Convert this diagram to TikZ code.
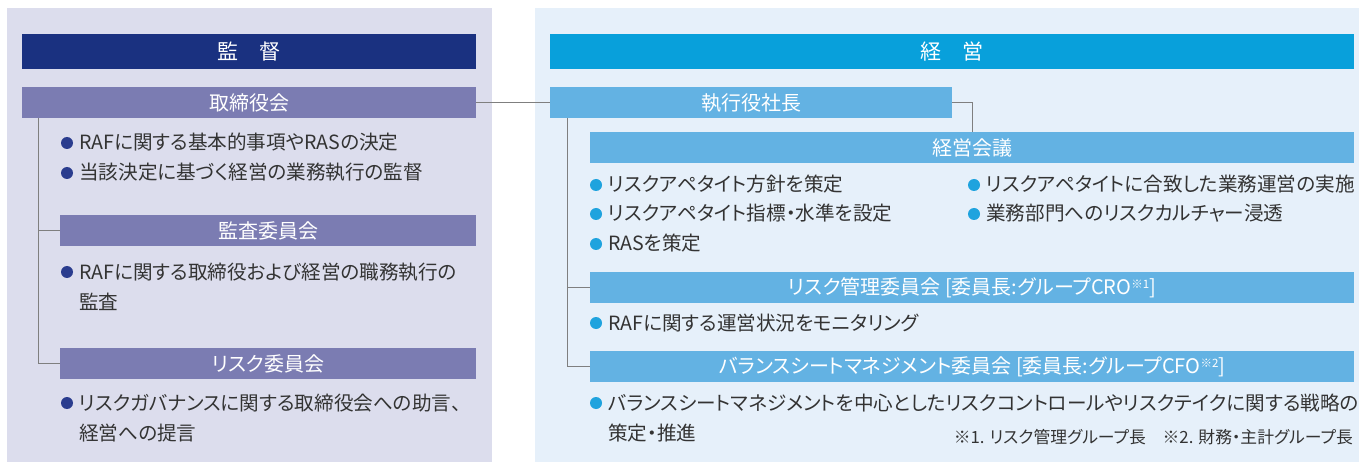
\documentclass[tikz,border=0pt]{standalone}
\usepackage{fontspec}
\setmainfont{Noto Sans CJK JP}[RawFeature=+palt]
\definecolor{panelgray}{HTML}{DCDDED}
\definecolor{panelblue}{HTML}{E6F0FA}
\definecolor{navyhead}{HTML}{1A3180}
\definecolor{cyanhead}{HTML}{08A0DB}
\definecolor{purplebar}{HTML}{7B7CB2}
\definecolor{bluebar}{HTML}{63B2E3}
\definecolor{linegray}{HTML}{7F7F7F}
\definecolor{textgray}{HTML}{333333}
\definecolor{dotnavy}{HTML}{2A3C8E}
\definecolor{dotcyan}{HTML}{1FA3DE}
\newcommand{\chu}[1]{\raisebox{6pt}{\fontsize{11.5}{11.5}\selectfont ※#1}}

\begin{document}
\begin{tikzpicture}[x=1pt,y=-1pt,
  headbar/.style={anchor=north west,inner sep=0pt,minimum height=35pt,
    text=white,font=\fontsize{21}{21}\selectfont},
  bar/.style={anchor=north west,inner sep=0pt,minimum height=31pt,
    text=white,font=\fontsize{20}{20}\selectfont},
  item/.style={anchor=base west,inner sep=0pt,align=left,text=textgray,
    font=\fontsize{19.6}{30}\selectfont},
  conn/.style={linegray,line width=1pt}]
  \useasboundingbox (0,0) rectangle (1359,462);

  % Two panels: supervision and management.
  \fill[panelgray] (7,8) rectangle (492,462);
  \fill[panelblue] (535,8) rectangle (1359,462);

  % Headings.
  \node[headbar,fill=navyhead,minimum width=454] (kantoku) at (22,34) {監\hspace{1em}督};
  \node[headbar,fill=cyanhead,minimum width=804] (keiei) at (550,34) {経\hspace{1em}営};

  % Bars, left.
  \node[bar,fill=purplebar,minimum width=454] (tori) at (22,87) {取締役会};
  \node[bar,fill=purplebar,minimum width=416] (kansa) at (60,215) {監査委員会};
  \node[bar,fill=purplebar,minimum width=416] (riskiin) at (60,348) {リスク委員会};

  % Bars, right.
  \node[bar,fill=bluebar,minimum width=402] (shacho) at (550,87) {執行役社長};
  \node[bar,fill=bluebar,minimum width=764] (kaigi) at (590,132) {経営会議};
  \node[bar,fill=bluebar,minimum width=764] (riskkanri) at (590,272)
    {リスク管理委員会 [委員長:グループCRO\chu{1}]};
  \node[bar,fill=bluebar,minimum width=764] (bsm) at (590,351)
    {バランスシートマネジメント委員会 [委員長:グループCFO\chu{2}]};

  % Connectors.
  \coordinate (ltop) at ([xshift=16pt]tori.south west);
  \coordinate (rtop) at ([xshift=17pt]shacho.south west);
  \draw[conn] (tori.east) -- (shacho.west);
  \draw[conn] (shacho.east) -| (kaigi.north);
  \draw[conn] (ltop) |- (kansa.west);
  \draw[conn] (ltop) |- (riskiin.west);
  \draw[conn] (rtop) |- (riskkanri.west);
  \draw[conn] (rtop) |- (bsm.west);

  % Items, left (x of text / y of bullet / extra lines).
  \foreach \nm/\xx/\yy/\nl/\txt in {
    ta/79/143/0/{RAFに関する基本的事項やRASの決定},
    tb/79/173/0/{当該決定に基づく経営の業務執行の監督},
    ka/79/272/1/{RAFに関する取締役および経営の職務執行の\\監査},
    ra/79/403/1/{リスクガバナンスに関する取締役会への助言、\\経営への提言}} {
    \fill[dotnavy] ({\xx-12},\yy) circle (6);
    \node[item] (\nm) at (\xx,{\yy+7+30*\nl}) {\txt};
  }

  % Items, right.
  \foreach \nm/\xx/\yy/\nl/\txt in {
    ga/608/185/0/{リスクアペタイト方針を策定},
    gb/608/214/0/{リスクアペタイト指標・水準を設定},
    gc/608/244/0/{RASを策定},
    gd/986/185/0/{リスクアペタイトに合致した業務運営の実施},
    ge/986/214/0/{業務部門へのリスクカルチャー浸透},
    rk/608/323/0/{RAFに関する運営状況をモニタリング},
    bs/608/403/1/{バランスシートマネジメントを中心としたリスクコントロールやリスクテイクに関する戦略の\\策定・推進}} {
    \fill[dotcyan] ({\xx-12},\yy) circle (6);
    \node[item] (\nm) at (\xx,{\yy+7+30*\nl}) {\txt};
  }

  % Notes.
  \node[anchor=base east,inner sep=0pt,text=textgray,font=\fontsize{16.8}{16.8}\selectfont]
    (chuki) at (1353,443) {※1. リスク管理グループ長\hspace{1em}※2. 財務・主計グループ長};
\end{tikzpicture}
\end{document}
